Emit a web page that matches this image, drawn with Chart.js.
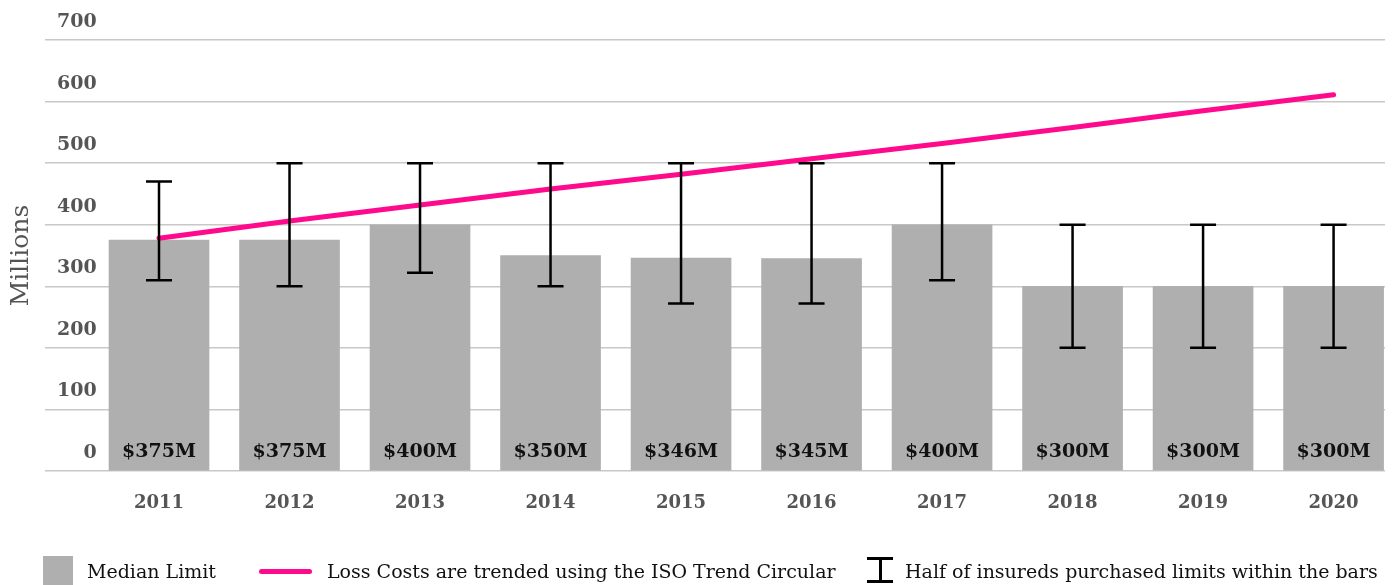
<!DOCTYPE html>
<html>
<head>
<meta charset="utf-8">
<script src="https://cdn.jsdelivr.net/npm/chart.js@4"></script>
<style>
  html, body { margin:0; padding:0; background:#fff; overflow:hidden; }
  #wrap { position:relative; width:1392px; height:585px; }
  canvas { display:block; }
  .lg { position:absolute; font-family:"DejaVu Serif", serif; font-size:19px; line-height:19px; color:#111; white-space:nowrap; }
</style>
</head>
<body>
<div id="wrap">
  <canvas id="chart" width="1392" height="585"></canvas>
  <div style="position:absolute;left:43px;top:556px;width:30px;height:30px;background:#afafaf"></div>
  <div class="lg" style="left:87px;top:562px">Median Limit</div>
  <div style="position:absolute;left:259px;top:569px;width:53px;height:5px;border-radius:3px;background:#ff0a8c"></div>
  <div class="lg" style="left:327px;top:562px">Loss Costs are trended using the ISO Trend Circular</div>
  <div style="position:absolute;left:867px;top:557px;width:26px;height:2.5px;background:#000"></div>
  <div style="position:absolute;left:879px;top:557px;width:2.5px;height:25px;background:#000"></div>
  <div style="position:absolute;left:867px;top:580px;width:26px;height:2.5px;background:#000"></div>
  <div class="lg" style="left:905px;top:562px">Half of insureds purchased limits within the bars</div>
</div>
<script>
const years      = ["2011","2012","2013","2014","2015","2016","2017","2018","2019","2020"];
const medianVals = [375, 375, 400, 350, 346, 345, 400, 300, 300, 300];
const barLabels  = ["$375M","$375M","$400M","$350M","$346M","$345M","$400M","$300M","$300M","$300M"];
const trendVals  = [378, 406, 432, 458, 482, 507, 532, 558, 585, 611];
const rangeHigh  = [470, 500, 500, 500, 500, 500, 500, 400, 400, 400];
const rangeLow   = [310, 300, 322, 300, 272, 272, 310, 200, 200, 200];
const yTicks     = [0, 100, 200, 300, 400, 500, 600, 700];

const SERIF = '"DejaVu Serif", serif';

// ── bar value labels + error bars ─────────────────────────────────────────
const overlay = {
  id: "overlay",
  afterDatasetsDraw(chart) {
    const { ctx, scales: { x, y } } = chart;
    ctx.save();
    // error bars (on top of the trend line)
    ctx.strokeStyle = "#000";
    ctx.lineWidth = 2.5;
    years.forEach((yr, i) => {
      const px = x.getPixelForValue(i);
      const t = y.getPixelForValue(rangeHigh[i]);
      const b = y.getPixelForValue(rangeLow[i]);
      ctx.beginPath();
      ctx.moveTo(px, t); ctx.lineTo(px, b);
      ctx.moveTo(px - 13, t); ctx.lineTo(px + 13, t);
      ctx.moveTo(px - 13, b); ctx.lineTo(px + 13, b);
      ctx.stroke();
    });
    // labels at bar bottoms
    ctx.fillStyle = "#111";
    ctx.font = "bold 19px " + SERIF;
    ctx.textAlign = "center";
    ctx.textBaseline = "middle";
    barLabels.forEach((t, i) => {
      ctx.fillText(t, x.getPixelForValue(i), y.getPixelForValue(0) - 19);
    });
    ctx.restore();
  }
};

new Chart(document.getElementById("chart"), {
  type: "bar",
  data: {
    datasets: [
      {
        type: "line",
        label: "Loss Costs are trended using the ISO Trend Circular",
        data: trendVals.map((v, i) => ({ x: i, y: v })),
        borderColor: "#ff0a8c", borderWidth: 5, borderCapStyle: "round",
        pointRadius: 0, tension: 0, order: 0
      },
      {
        label: "Median Limit",
        data: medianVals.map((v, i) => ({ x: i, y: v })),
        backgroundColor: "#afafaf", borderWidth: 0, barThickness: 100, order: 1
      }
    ]
  },
  options: {
    responsive: false, animation: false,
    layout: { padding: { left: 6, right: 7, top: 40, bottom: 70 } },
    plugins: { legend: { display: false }, tooltip: { enabled: false } },
    scales: {
      x: {
        type: "linear", min: -0.8736, max: 9.394, offset: false,
        afterFit: ax => { ax.height = 44; },
        grid: { display: false, drawTicks: false }, border: { display: false },
        ticks: {
          stepSize: 1, includeBounds: false, padding: 22,
          color: "#555", font: { family: SERIF, size: 18, weight: "bold" },
          callback: v => years[v] ?? ""
        }
      },
      y: {
        min: 0, max: 700,
        afterFit: ax => { ax.width = 39; },
        afterBuildTicks: ax => { ax.ticks = yTicks.map(v => ({ value: v })); },
        grid: { color: "#c8c8c8", lineWidth: 1.5, drawTicks: false },
        border: { display: false },
        ticks: {
          mirror: true, crossAlign: "far", padding: 12, labelOffset: -18,
          color: "#555", font: { family: SERIF, size: 19, weight: "bold" }
        },
        title: {
          display: true, text: "Millions", color: "#555",
          font: { family: SERIF, size: 25 }, padding: { top: 0, bottom: 9 }
        }
      }
    }
  },
  plugins: [overlay]
});
</script>
</body>
</html>
